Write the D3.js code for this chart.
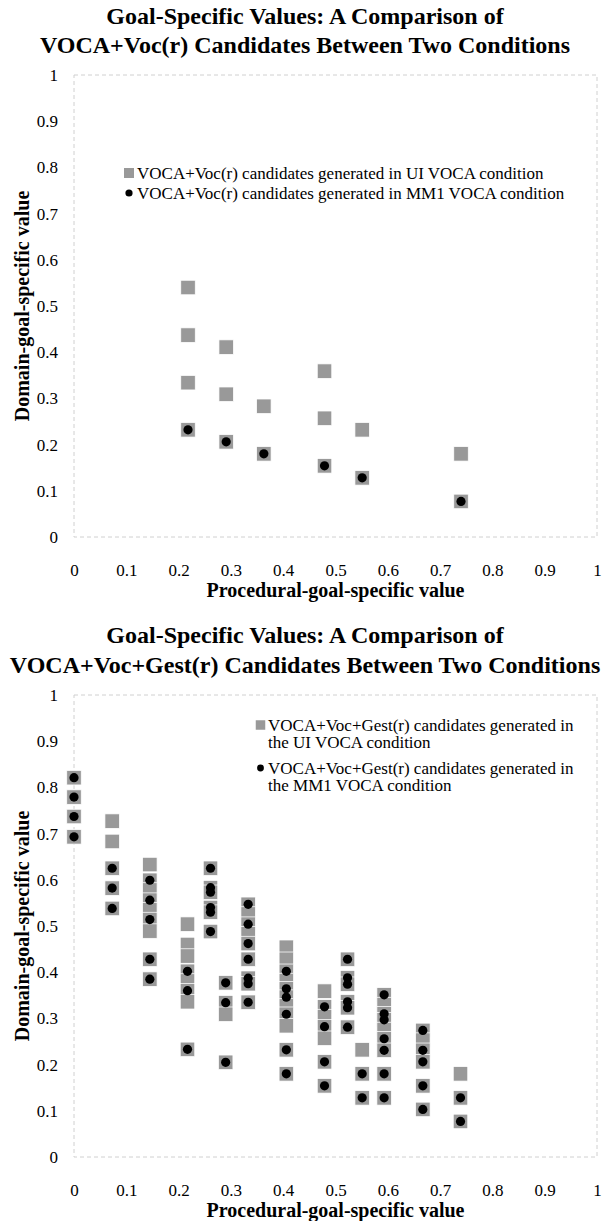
<!DOCTYPE html>
<html>
<head>
<meta charset="utf-8">
<script src="https://cdn.jsdelivr.net/npm/d3@7"></script>
<style>
  body { margin: 0; background: #ffffff; }
  svg text { font-family: "Liberation Serif", "Times New Roman", serif; fill: #000; }
</style>
</head>
<body>
<svg id="chart" width="605" height="1221"></svg>
<script>
// ---- tick values and labels ----
const xTicks = [0, 0.1, 0.2, 0.3, 0.4, 0.5, 0.6, 0.7, 0.8, 0.9, 1];
const xTickLabels = ["0", "0.1", "0.2", "0.3", "0.4", "0.5", "0.6", "0.7", "0.8", "0.9", "1"];
const yTicks = [0, 0.1, 0.2, 0.3, 0.4, 0.5, 0.6, 0.7, 0.8, 0.9, 1];
const yTickLabels = ["0", "0.1", "0.2", "0.3", "0.4", "0.5", "0.6", "0.7", "0.8", "0.9", "1"];

// ---- text ----
const vocTitle = ["Goal-Specific Values: A Comparison of", "VOCA+Voc(r) Candidates Between Two Conditions"];
const gestTitle = ["Goal-Specific Values: A Comparison of", "VOCA+Voc+Gest(r) Candidates Between Two Conditions"];
const xAxisTitle = "Procedural-goal-specific value";
const yAxisTitle = "Domain-goal-specific value";
const vocLegend = [
  ["VOCA+Voc(r) candidates generated in UI VOCA condition"],
  ["VOCA+Voc(r) candidates generated in MM1 VOCA condition"]
];
const gestLegend = [
  ["VOCA+Voc+Gest(r) candidates generated in", "the UI VOCA condition"],
  ["VOCA+Voc+Gest(r) candidates generated in", "the MM1 VOCA condition"]
];

// ---- VOCA+Voc(r) candidates: [procedural, domain] ----
const vocUI = [
  [0.218, 0.540], [0.218, 0.437], [0.218, 0.334], [0.218, 0.232],
  [0.291, 0.411], [0.291, 0.309], [0.291, 0.206],
  [0.363, 0.283], [0.363, 0.180],
  [0.479, 0.359], [0.479, 0.257], [0.479, 0.154],
  [0.551, 0.232], [0.551, 0.128],
  [0.740, 0.180], [0.740, 0.077]
];
const vocMM1 = [
  [0.218, 0.232], [0.291, 0.206], [0.363, 0.180],
  [0.479, 0.154], [0.551, 0.128], [0.740, 0.077]
];

// ---- VOCA+Voc+Gest(r) candidates: [procedural, domain] ----
const gestUI = [
  [0.000, 0.821], [0.000, 0.779], [0.000, 0.737], [0.000, 0.693],
  [0.073, 0.727], [0.073, 0.683], [0.073, 0.625], [0.073, 0.582], [0.073, 0.538],
  [0.145, 0.633], [0.145, 0.599], [0.145, 0.578], [0.145, 0.556], [0.145, 0.535],
  [0.145, 0.514], [0.145, 0.489], [0.145, 0.428], [0.145, 0.385],
  [0.217, 0.504], [0.217, 0.460], [0.217, 0.435], [0.217, 0.402], [0.217, 0.381],
  [0.217, 0.360], [0.217, 0.336], [0.217, 0.233],
  [0.261, 0.625], [0.261, 0.583], [0.261, 0.573], [0.261, 0.540], [0.261, 0.530], [0.261, 0.488],
  [0.290, 0.377], [0.290, 0.334], [0.290, 0.309], [0.290, 0.205],
  [0.333, 0.547], [0.333, 0.526], [0.333, 0.504], [0.333, 0.483], [0.333, 0.462],
  [0.333, 0.428], [0.333, 0.387], [0.333, 0.375], [0.333, 0.335],
  [0.406, 0.454], [0.406, 0.428], [0.406, 0.402], [0.406, 0.382], [0.406, 0.364],
  [0.406, 0.346], [0.406, 0.327], [0.406, 0.309], [0.406, 0.284], [0.406, 0.232], [0.406, 0.180],
  [0.479, 0.359], [0.479, 0.325], [0.479, 0.304], [0.479, 0.282], [0.479, 0.257],
  [0.479, 0.206], [0.479, 0.154],
  [0.523, 0.428], [0.523, 0.388], [0.523, 0.374], [0.523, 0.336], [0.523, 0.323], [0.523, 0.281],
  [0.551, 0.232], [0.551, 0.180], [0.551, 0.128],
  [0.593, 0.351], [0.593, 0.330], [0.593, 0.310], [0.593, 0.297], [0.593, 0.276],
  [0.593, 0.256], [0.593, 0.231], [0.593, 0.180], [0.593, 0.128],
  [0.667, 0.274], [0.667, 0.253], [0.667, 0.231], [0.667, 0.206], [0.667, 0.154], [0.667, 0.103],
  [0.739, 0.180], [0.739, 0.128], [0.739, 0.077]
];
const gestMM1 = [
  [0.000, 0.821], [0.000, 0.779], [0.000, 0.737], [0.000, 0.693],
  [0.073, 0.625], [0.073, 0.582], [0.073, 0.538],
  [0.145, 0.599], [0.145, 0.556], [0.145, 0.514], [0.145, 0.428], [0.145, 0.385],
  [0.217, 0.402], [0.217, 0.360], [0.217, 0.233],
  [0.261, 0.625], [0.261, 0.583], [0.261, 0.573], [0.261, 0.540], [0.261, 0.530], [0.261, 0.488],
  [0.290, 0.377], [0.290, 0.334], [0.290, 0.205],
  [0.333, 0.547], [0.333, 0.504], [0.333, 0.462], [0.333, 0.428], [0.333, 0.387], [0.333, 0.375], [0.333, 0.335],
  [0.406, 0.402], [0.406, 0.364], [0.406, 0.346], [0.406, 0.309], [0.406, 0.232], [0.406, 0.180],
  [0.479, 0.325], [0.479, 0.282], [0.479, 0.206], [0.479, 0.154],
  [0.523, 0.428], [0.523, 0.388], [0.523, 0.374], [0.523, 0.336], [0.523, 0.323], [0.523, 0.281],
  [0.551, 0.180], [0.551, 0.128],
  [0.593, 0.351], [0.593, 0.310], [0.593, 0.297], [0.593, 0.256], [0.593, 0.231], [0.593, 0.180], [0.593, 0.128],
  [0.667, 0.274], [0.667, 0.231], [0.667, 0.206], [0.667, 0.154], [0.667, 0.103],
  [0.739, 0.128], [0.739, 0.077]
];

// ---- styling ----
const GRAY = "#999999";
const SQ = 14.5;       // square marker side
const DOT_R = 4.6;     // circle marker radius
const TICK_FS = 17;
const LEGEND_FS = 17;
const AXIS_TITLE_FS = 20;
const TITLE_FS = 24;

const svg = d3.select("#chart");

// shrink a text element horizontally if it would run past maxWidth
function clampWidth(sel, maxWidth) {
  sel.each(function () {
    const w = this.getComputedTextLength();
    if (w > maxWidth) {
      d3.select(this).attr("textLength", maxWidth).attr("lengthAdjust", "spacingAndGlyphs");
    }
  });
}

function drawPanel(opts) {
  const { top, bottom, titleLines, titleY, ui, mm1, legend } = opts;
  const left = 74, right = 597;
  const g = svg.append("g");

  const x = d3.scaleLinear().domain([0, 1]).range([left, right]);
  const y = d3.scaleLinear().domain([0, 1]).range([bottom, top]);

  // title
  titleLines.forEach((line, i) => {
    g.append("text")
      .attr("x", 305)
      .attr("y", titleY[i])
      .attr("text-anchor", "middle")
      .attr("dominant-baseline", "central")
      .attr("font-size", TITLE_FS)
      .attr("font-weight", "bold")
      .text(line)
      .call(clampWidth, 592);
  });

  // dashed plot-area border
  g.append("rect")
    .attr("x", x(0)).attr("y", y(1))
    .attr("width", x(1) - x(0)).attr("height", y(0) - y(1))
    .attr("fill", "none")
    .attr("stroke", "#d0d0d0")
    .attr("stroke-width", 1)
    .attr("stroke-dasharray", "4,3");

  // axes
  const yAxis = d3.axisLeft(y).tickValues(yTicks).tickSize(0).tickPadding(16)
    .tickFormat((d, i) => yTickLabels[i]);
  const gy = g.append("g").attr("transform", `translate(${left},0)`).call(yAxis);
  gy.select(".domain").remove();
  gy.selectAll("text").attr("font-size", TICK_FS).attr("font-family", null);

  const xAxis = d3.axisBottom(x).tickValues(xTicks).tickSize(0).tickPadding(27)
    .tickFormat((d, i) => xTickLabels[i]);
  const gx = g.append("g").attr("transform", `translate(0,${bottom})`).call(xAxis);
  gx.select(".domain").remove();
  gx.selectAll("text").attr("font-size", TICK_FS).attr("font-family", null);

  // axis titles
  g.append("text")
    .attr("x", (left + right) / 2)
    .attr("y", bottom + 53)
    .attr("text-anchor", "middle")
    .attr("dominant-baseline", "central")
    .attr("font-size", AXIS_TITLE_FS)
    .attr("font-weight", "bold")
    .text(xAxisTitle);

  g.append("text")
    .attr("transform", `translate(22,${(top + bottom) / 2}) rotate(-90)`)
    .attr("text-anchor", "middle")
    .attr("dominant-baseline", "central")
    .attr("font-size", AXIS_TITLE_FS)
    .attr("font-weight", "bold")
    .text(yAxisTitle);

  // UI VOCA candidates: gray squares
  g.append("g").selectAll("rect")
    .data(ui)
    .join("rect")
    .attr("x", d => x(d[0]) - SQ / 2)
    .attr("y", d => y(d[1]) - SQ / 2)
    .attr("width", SQ).attr("height", SQ)
    .attr("fill", GRAY)
    .attr("stroke", "#ffffff")
    .attr("stroke-width", 0.75);

  // MM1 VOCA candidates: black dots
  g.append("g").selectAll("circle")
    .data(mm1)
    .join("circle")
    .attr("cx", d => x(d[0]))
    .attr("cy", d => y(d[1]))
    .attr("r", DOT_R)
    .attr("fill", "#000");

  // legend
  const lg = g.append("g");
  legend.entries.forEach((lines, i) => {
    const ey = legend.y[i];
    if (i === 0) {
      lg.append("rect")
        .attr("x", legend.markerX - legend.sq / 2).attr("y", ey - legend.sq / 2)
        .attr("width", legend.sq).attr("height", legend.sq)
        .attr("fill", GRAY);
    } else {
      lg.append("circle")
        .attr("cx", legend.markerX).attr("cy", ey)
        .attr("r", legend.dot)
        .attr("fill", "#000");
    }
    lines.forEach((t, j) => {
      lg.append("text")
        .attr("x", legend.textX)
        .attr("y", ey + j * legend.lineGap)
        .attr("dominant-baseline", "central")
        .attr("font-size", LEGEND_FS)
        .text(t);
    });
  });
}

drawPanel({
  top: 75, bottom: 537,
  titleLines: vocTitle, titleY: [16, 45],
  ui: vocUI, mm1: vocMM1,
  legend: { entries: vocLegend, y: [173, 193], markerX: 129, textX: 137, sq: 10, dot: 3.6, lineGap: 17 }
});

drawPanel({
  top: 695, bottom: 1157,
  titleLines: gestTitle, titleY: [635, 665],
  ui: gestUI, mm1: gestMM1,
  legend: { entries: gestLegend, y: [725, 768], markerX: 260.5, textX: 268, sq: 9.5, dot: 3.4, lineGap: 17 }
});
</script>
</body>
</html>
